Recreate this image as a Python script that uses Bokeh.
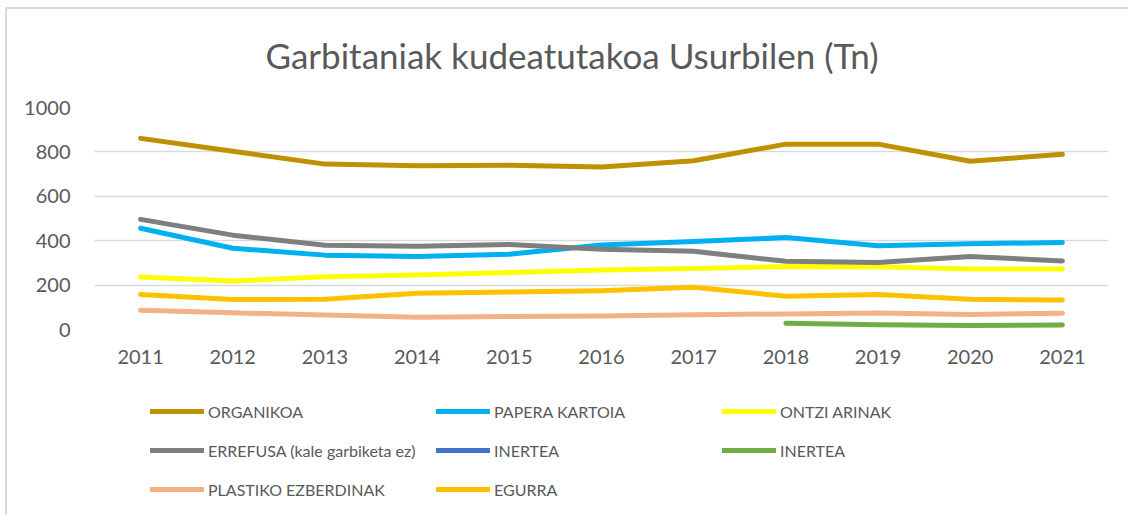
from bokeh.plotting import figure
from bokeh.layouts import column
from bokeh.models import (FactorRange, Range1d, Legend, LegendItem, Title,
                          ColumnDataSource, FixedTicker)
from bokeh.embed import file_html
from bokeh.resources import INLINE

years = ["2011", "2012", "2013", "2014", "2015", "2016", "2017", "2018", "2019", "2020", "2021"]

organikoa = [861, 803, 745, 738, 740, 732, 760, 835, 835, 758, 789]
papera_kartoia = [456, 366, 335, 329, 339, 381, 396, 414, 377, 386, 392]
ontzi_arinak = [236, 218, 238, 245, 257, 268, 275, 284, 283, 273, 273]
errefusa = [496, 425, 380, 375, 383, 362, 352, 307, 302, 329, 309]
inertea_blue = []
inertea_green_years = ["2018", "2019", "2020", "2021"]
inertea_green = [28, 21, 18, 20]
plastiko = [87, 75, 65, 55, 58, 61, 67, 70, 74, 68, 73]
egurra = [158, 135, 136, 163, 169, 175, 190, 150, 158, 136, 133]

y_ticks = [0, 200, 400, 600, 800, 1000]

FONT = "Lato"
TXT = "#595959"
BORDER = "#d9d9d9"

W = 1128
H_TOP, H_LEG = 389, 126

p = figure(width=W, height=H_TOP, x_range=FactorRange(*years, range_padding=0),
           y_range=Range1d(0, 1000), output_backend="svg", toolbar_location=None,
           min_border_left=94, min_border_right=20, min_border_top=106,
           min_border_bottom=60)
p.outline_line_color = None
p.background_fill_alpha = 0
p.border_fill_alpha = 0

p.xgrid.grid_line_color = None
p.ygrid.grid_line_color = "#d9d9d9"
p.ygrid.grid_line_width = 1.5
p.yaxis.ticker = FixedTicker(ticks=y_ticks)

for ax in (p.xaxis[0], p.yaxis[0]):
    ax.axis_line_color = None
    ax.major_tick_line_color = None
    ax.minor_tick_line_color = None
    ax.major_label_text_font = FONT
    ax.major_label_text_font_size = "20px"
    ax.major_label_text_color = TXT
p.yaxis.major_label_standoff = 18
p.xaxis.major_label_standoff = 14

LW = 5

series = [
    ("ORGANIKOA", years, organikoa, "#BF9000"),
    ("PAPERA KARTOIA", years, papera_kartoia, "#00B0F0"),
    ("ONTZI ARINAK", years, ontzi_arinak, "#FFFF00"),
    ("ERREFUSA (kale garbiketa ez)", years, errefusa, "#7F7F7F"),
    ("INERTEA", [], inertea_blue, "#4472C4"),
    ("INERTEA", inertea_green_years, inertea_green, "#70AD47"),
    ("PLASTIKO EZBERDINAK", years, plastiko, "#F4B183"),
    ("EGURRA", years, egurra, "#FFC000"),
]

for name, xs, ys, color in series:
    src = ColumnDataSource(dict(x=xs, y=ys))
    p.line("x", "y", source=src, line_color=color, line_width=LW,
           line_cap="round", line_join="round")

p.add_layout(Title(text="Garbitaniak kudeatutakoa Usurbilen (Tn)", align="left",
                   offset=171, standoff=63, text_font=FONT,
                   text_font_size="35px", text_font_style="normal",
                   text_color=TXT), "above")

# legend panel (its frame is aligned with the chart frame by the column layout)
lp = figure(width=W, height=H_LEG, x_range=Range1d(0, 1), y_range=Range1d(0, 1),
            output_backend="svg", toolbar_location=None,
            x_axis_location=None, y_axis_location=None, min_border=0)
lp.outline_line_color = None
lp.background_fill_alpha = 0
lp.border_fill_alpha = 0
lp.xgrid.grid_line_color = None
lp.ygrid.grid_line_color = None

nan = float("nan")
leg_renderers = []
for name, xs, ys, color in series:
    # legend sample only: a single NaN point, so nothing is drawn in the panel
    r = lp.line(x=[nan], y=[nan], line_color=color, line_width=LW, line_cap="round")
    leg_renderers.append((name, r))

rows = [leg_renderers[0:3], leg_renderers[3:6], leg_renderers[6:8]]
row_bottoms = [94, 55, 16]
for items, vy in zip(rows, row_bottoms):
    lg = Legend(items=[LegendItem(label=l, renderers=[r]) for l, r in items],
                orientation="horizontal", location=(56, vy),
                glyph_width=54, glyph_height=20, label_standoff=4,
                label_width=228, spacing=0, padding=0, margin=0,
                border_line_color=None, background_fill_alpha=0,
                label_text_font=FONT, label_text_font_size="16px",
                label_text_color=TXT)
    lp.add_layout(lg, "center")

layout = column(p, lp, spacing=0, styles={
    "background": (f"linear-gradient({BORDER},{BORDER}) 5px 7px / 2px 100% no-repeat, "
                   f"linear-gradient({BORDER},{BORDER}) 5px 7px / 100% 2px no-repeat, white"),
})
open("out.html", "w").write(file_html(layout, INLINE))
